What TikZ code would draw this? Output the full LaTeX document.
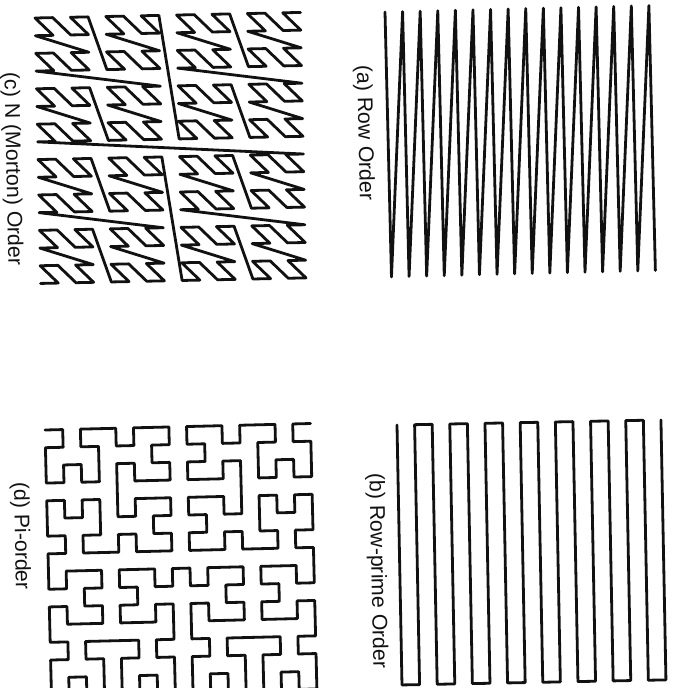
\documentclass[tikz,border=0pt]{standalone}
\usepackage{fontspec}
\setmainfont{Liberation Sans}
\usepackage{xcolor}
\usepackage{tikz}
\usetikzlibrary{lindenmayersystems}
\definecolor{Ink}{HTML}{111111}
\pgfdeclarelindenmayersystem{Pi order}{
  \rule{L -> +RF-LFL-FR+}
  \rule{R -> -LF+RFR+FL-}}

\begin{document}
\begin{tikzpicture}[x=1pt,y=-1pt]
\tikzset{curve/.style={draw=Ink,line width=2.8pt,line join=round,line cap=round}, caption/.style={text=Ink,font=\fontsize{21.3}{25}\selectfont,rotate=-88.8,inner sep=0pt}}
\useasboundingbox (0,0) rectangle (674,688);
\clip (0,0) rectangle (674,688);
% (a) row order
\begin{scope}[shift={(385,12)},rotate=1.4,x=17.6pt]
\draw[curve] (0,0) -- (0,265) \foreach \i in {1,...,15}{ -- (\i,0) -- (\i,265) };
\end{scope}
\node[caption] (rowlbl) at (364,133) {(a) Row Order};
% (b) row-prime order
\begin{scope}[shift={(397,425)},rotate=1.1,x=17.6pt]
\draw[curve] (0,0) \foreach \i in {0,2,...,14}{ -- (\i,0) -- (\i,260) -- (\i+1,260) -- (\i+1,0) };
\end{scope}
\node[caption] (primelbl) at (377,571) {(b) Row-prime Order};
% (c) N (Morton) order
\begin{scope}[shift={(35,18)},rotate=1.2,x=17.7pt,y=-17.7pt]
\draw[curve] (15,0)
  \foreach \ux/\uy in {0/0,1/0,0/1,1/1}{
  \foreach \vx/\vy in {0/0,1/0,0/1,1/1}{
  \foreach \wx/\wy in {0/0,1/0,0/1,1/1}{
  \foreach \zx/\zy in {0/0,1/0,0/1,1/1}{
    -- ({15-8*\ux-4*\vx-2*\wx-\zx},{8*\uy+4*\vy+2*\wy+\zy}) }}}};
\end{scope}
\node[caption] (mortonlbl) at (12,169) {(c) N (Morton) Order};
% (d) Pi-order
\begin{scope}[shift={(45,430)},rotate=1.4,yscale=-1]
\draw[curve,lindenmayer system={Pi order, axiom=L, order=4, step=17.7pt, angle=90}] (0,0) lindenmayer system;
\end{scope}
\node[caption] (pilbl) at (20.5,536) {(d) Pi-order};
\end{tikzpicture}
\end{document}
